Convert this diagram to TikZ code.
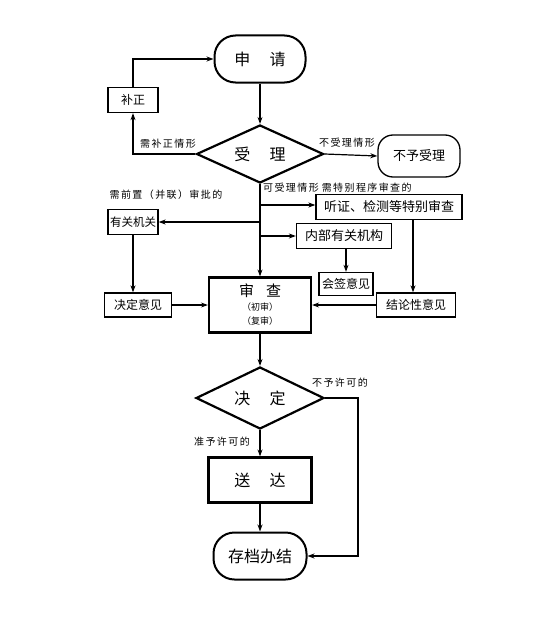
\documentclass[tikz,border=0pt]{standalone}
\usepackage{fontspec}
\setmainfont{Noto Sans CJK SC}
\newfontfamily\labfont[LetterSpace=14]{Noto Sans CJK SC}
\usetikzlibrary{shapes.geometric,arrows.meta}
\begin{document}
\begin{tikzpicture}[x=1pt,y=-1pt,
  arr/.style={-{Stealth[length=7pt,width=5pt]},line width=1.2pt},
  bigbox/.style={draw,line width=2.2pt,inner sep=0pt,font=\fontsize{16}{18}\selectfont},
  stad/.style={draw,line width=2pt,rounded corners=21pt,inner sep=0pt,font=\fontsize{16}{18}\selectfont},
  dia/.style={draw,diamond,line width=2.2pt,inner sep=0pt,aspect=2.1,font=\fontsize{16}{18}\selectfont},
  smallbox/.style={draw,line width=1.3pt,inner sep=0pt,font=\fontsize{12}{14}\selectfont},
  lab/.style={inner sep=0pt,font=\labfont\fontsize{10}{12}\selectfont}]
\useasboundingbox (0,0) rectangle (559,618);
% main nodes
\node[stad,minimum width=91pt,minimum height=47pt] (sq) at (260,59) {申\hspace{1.2em}请};
\node[smallbox,minimum width=50pt,minimum height=25pt] (bz) at (133,100) {补正};
\node[dia,minimum width=127pt,minimum height=58pt] (sl) at (260,154) {受\hspace{1.2em}理};
\node[draw,line width=1.3pt,rounded corners=15pt,inner sep=0pt,minimum width=82pt,minimum height=42pt,font=\fontsize{13}{15}\selectfont] (byl) at (419,156) {不予受理};
\node[smallbox,minimum width=146pt,minimum height=25pt,font=\fontsize{13}{15}\selectfont] (tz) at (389,207) {听证、检测等特别审查};
\node[smallbox,minimum width=50pt,minimum height=25pt,font=\fontsize{11.5}{13}\selectfont] (ygj) at (133,222) {有关机关};
\node[smallbox,minimum width=95pt,minimum height=25pt,font=\fontsize{13}{15}\selectfont] (nb) at (344,236) {内部有关机构};
\node[smallbox,minimum width=54pt,minimum height=23pt] (hq) at (346,284) {会签意见};
\node[smallbox,minimum width=79pt,minimum height=24pt] (jl) at (416,305) {结论性意见};
\node[smallbox,minimum width=67pt,minimum height=24pt] (jdyj) at (138,305) {决定意见};
\node[bigbox,minimum width=102pt,minimum height=55pt,align=center,font=\fontsize{15}{17}\selectfont] (sc) at (260,305)
  {审\hspace{0.8em}查\\[-3pt]{\fontsize{9}{10}\selectfont （初审）}\\[-3pt]{\fontsize{9}{10}\selectfont （复审）}};
\node[dia,minimum width=128pt,minimum height=62pt] (jd) at (260,398) {决\hspace{1.2em}定};
\node[bigbox,minimum width=103pt,minimum height=45pt] (sd) at (260,480) {送\hspace{1.2em}达};
\node[stad,minimum width=93pt,minimum height=47pt] (cd) at (260,556) {存档办结};
% labels
\node[lab] (l1) at (168,144) {需补正情形};
\node[lab] (l2) at (347,143) {不受理情形};
\node[lab,anchor=west] (l3) at (263,188) {可受理情形\hspace{0.3em}需特别程序审查的};
\node[lab] (l4) at (166,195) {需前置（并联）审批的};
\node[lab] (l5) at (340,383) {不予许可的};
\node[lab] (l6) at (222,442) {准予许可的};
% connectors
\draw[arr] (sq) -- (sl);
\draw[arr] (sl.west) -| (bz.south);
\draw[arr] (bz.north) |- (sq.west);
\draw[arr] (sl.east) -- (byl.west);
\draw[arr] (sl.south) -- (sc.north);
\coordinate (c1) at (260,205);
\coordinate (c2) at (260,222);
\coordinate (c3) at (260,236);
\draw[arr] (c1) -- (c1 -| tz.west);
\draw[arr] (c2) -- (ygj.east);
\draw[arr] (c3) -- (nb.west);
\draw[arr] (nb.south -| hq.north) -- (hq.north);
\coordinate (c4) at (413,220);
\draw[arr] (c4 |- tz.south) -- (c4 |- jl.north);
\draw[arr] (jl.west) -- (sc.east);
\draw[arr] (ygj.south) -- (ygj.south |- jdyj.north);
\draw[arr] (jdyj.east) -- (sc.west);
\draw[arr] (sc.south) -- (jd.north);
\draw[arr] (jd.south) -- (sd.north);
\draw[arr] (sd.south) -- (cd.north);
\coordinate (c5) at (358,398);
\draw[arr] (jd.east) -- (c5) |- (cd.east);
\end{tikzpicture}
\end{document}
